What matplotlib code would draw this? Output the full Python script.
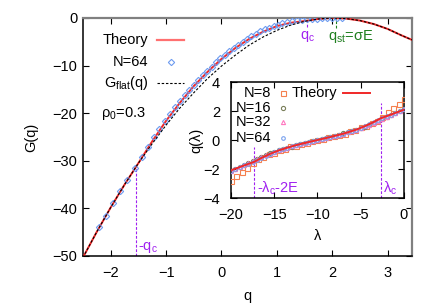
import matplotlib
matplotlib.use("Agg")
import matplotlib.pyplot as plt

plt.rcParams['font.family'] = ['Liberation Sans', 'DejaVu Sans']
plt.rcParams['mathtext.fontset'] = 'custom'
plt.rcParams['mathtext.rm'] = 'Liberation Sans'
plt.rcParams['mathtext.it'] = 'Liberation Sans'
plt.rcParams['font.size'] = 10.5

# ---- main panel data: G(q) ----
q_flat = [-2.5, -2.25, -2.0, -1.75, -1.5, -1.25, -1.0, -0.75, -0.5, -0.25, 0.0,
          0.25, 0.5, 0.75, 1.0, 1.25, 1.5, 1.75, 2.0, 2.25, 2.5, 2.75, 3.0, 3.25, 3.44]
G_flat = [-50.3, -44.9, -39.8, -35.0, -30.5, -26.4, -22.5, -18.9, -15.7, -12.7, -10.1,
          -7.8, -5.7, -4.0, -2.6, -1.5, -0.7, -0.2, 0.0, -0.12, -0.54, -1.27, -2.3, -3.65, -4.6]

q_theory = [-2.5, -2.25, -2.0, -1.75, -1.55, -1.25, -1.0, -0.75, -0.5, -0.25, 0.0,
            0.25, 0.5, 0.75, 1.0, 1.25, 1.55, 1.75, 2.0, 2.25, 2.5, 2.75, 3.0, 3.25, 3.44]
G_theory = [-50.3, -44.9, -39.8, -35.0, -31.4, -25.9, -21.6, -17.8, -14.3, -11.3, -8.6,
            -6.3, -4.4, -2.9, -1.7, -1.0, -0.56, -0.2, 0.0, -0.12, -0.54, -1.27, -2.3, -3.65, -4.6]

q_n64 = [-2.22, -2.09, -1.96, -1.83, -1.70, -1.57, -1.44, -1.33, -1.22, -1.12, -1.02,
         -0.93, -0.84, -0.75, -0.66, -0.58, -0.50, -0.42, -0.34, -0.26, -0.18, -0.10,
         -0.02, 0.06, 0.14, 0.22, 0.30, 0.38, 0.46, 0.54, 0.62, 0.70, 0.78, 0.86, 0.94,
         1.02, 1.10, 1.19, 1.28, 1.37, 1.46, 1.55, 1.64, 1.73, 1.82, 1.91, 2.00, 2.09, 2.18]
G_n64 = [-44.0, -41.5, -38.9, -36.4, -34.0, -31.6, -29.1, -27.0, -25.0, -23.3, -21.6,
         -20.2, -18.8, -17.5, -16.2, -15.1, -14.0, -13.0, -12.0, -11.1, -10.2, -9.3,
         -8.5, -7.7, -7.0, -6.3, -5.6, -5.0, -4.4, -3.8, -3.3, -2.8, -2.4, -2.0, -1.7,
         -1.4, -1.1, -0.85, -0.65, -0.5, -0.4, -0.3, -0.2, -0.12, -0.05, 0.0, 0.0, 0.0, -0.05]

q_c = 1.55
q_st = 2.07

# ---- inset data: q(lambda) ----
lam_theory = [-20, -19, -18, -17.3, -16.5, -15.5, -14.5, -13.5, -12.5, -11.5, -10.5, -10,
              -9.5, -8.5, -7.5, -6.5, -5.5, -4.5, -3.5, -2.7, -2, -1, 0]
qlam_theory = [-2.09, -1.87, -1.65, -1.50, -1.24, -0.96, -0.72, -0.53, -0.36, -0.21, -0.07, 0.0,
               0.07, 0.21, 0.36, 0.53, 0.72, 0.96, 1.24, 1.50, 1.65, 1.87, 2.09]

lam_grid = [-20.0, -19.5, -19.0, -18.5, -18.0, -17.5, -17.0, -16.5, -16.0, -15.5, -15.0,
            -14.5, -14.0, -13.5, -13.0, -12.5, -12.0, -11.5, -11.0, -10.5, -10.0,
            -9.5, -9.0, -8.5, -8.0, -7.5, -7.0, -6.5, -6.0, -5.5, -5.0,
            -4.5, -4.0, -3.5, -3.0, -2.5, -2.0, -1.5, -1.0, -0.5, 0.0]
q_N16 = [-2.13, -1.98, -1.84, -1.70, -1.56, -1.42, -1.28, -1.15, -1.03, -0.92, -0.81,
         -0.71, -0.62, -0.53, -0.45, -0.37, -0.29, -0.22, -0.14, -0.07, 0.0,
         0.07, 0.14, 0.22, 0.29, 0.37, 0.45, 0.53, 0.62, 0.71, 0.81,
         0.92, 1.03, 1.15, 1.28, 1.42, 1.56, 1.70, 1.84, 1.98, 2.13]
q_N32 = [-2.12, -1.99, -1.87, -1.74, -1.61, -1.47, -1.33, -1.19, -1.06, -0.94, -0.82,
         -0.72, -0.62, -0.53, -0.44, -0.36, -0.29, -0.21, -0.14, -0.07, 0.0,
         0.07, 0.14, 0.21, 0.29, 0.36, 0.44, 0.53, 0.62, 0.72, 0.82,
         0.94, 1.06, 1.19, 1.33, 1.47, 1.61, 1.74, 1.87, 1.99, 2.12]
q_N64 = [-2.11, -1.99, -1.87, -1.75, -1.63, -1.50, -1.36, -1.21, -1.07, -0.95, -0.83,
         -0.72, -0.62, -0.53, -0.44, -0.36, -0.28, -0.21, -0.14, -0.07, 0.0,
         0.07, 0.14, 0.21, 0.28, 0.36, 0.44, 0.53, 0.62, 0.72, 0.83,
         0.95, 1.07, 1.21, 1.36, 1.50, 1.63, 1.75, 1.87, 1.99, 2.11]

lam_N8 = [-20.0, -19.375, -18.75, -18.125, -17.5, -16.875, -16.25, -15.625, -15.0, -14.375,
          -13.75, -13.125, -12.5, -11.875, -11.25, -10.625, -10.0, -9.375, -8.75, -8.125,
          -7.5, -6.875, -6.25, -5.625, -5.0, -4.375, -3.75, -3.125, -2.5, -1.875, -1.25,
          -0.625, 0.0]
q_N8 = [-2.85, -2.50, -2.20, -1.95, -1.62, -1.32, -1.18, -0.96, -0.87, -0.68, -0.60,
        -0.44, -0.38, -0.25, -0.19, -0.07, 0.0, 0.07, 0.19, 0.25, 0.38, 0.44, 0.60, 0.68,
        0.87, 0.96, 1.18, 1.32, 1.62, 1.95, 2.20, 2.50, 2.85]

lam_c = -2.7
lam_left = -17.3

purple = '#a020f0'
red = '#f02828'
dash = (0, (2.5, 1.5))

fig = plt.figure(figsize=(4.36, 3.05), dpi=100)
ax = fig.add_axes([0.1904, 0.1607, 0.7546, 0.7803])

ax.plot(q_theory, G_theory, color=red, lw=1.4, zorder=3)
ax.plot(q_n64, G_n64, ls='none', marker='D', ms=3.2, mfc='none', mec='#6d9bf0',
        mew=0.8, zorder=4)
ax.plot(q_flat, G_flat, color='black', ls=(0, (2.2, 1.6)), lw=0.8, zorder=5)

ax.vlines(-q_c, -50, G_theory[q_theory.index(-q_c)], colors=purple, lw=0.8, linestyles=dash)
ax.vlines(q_c, -1.9, -0.4, colors=purple, lw=0.8, linestyles=dash)
ax.vlines(q_st, -2.2, 0, colors='#208020', lw=0.8, linestyles=dash)
ax.text(-1.5, -48.2, r'-q$_\mathregular{c}$', color=purple, ha='left', va='center')
ax.text(q_c, -3.9, r'q$_\mathregular{c}$', color=purple, ha='center', va='center')
ax.text(q_st - 0.14, -3.9, r'q$_\mathregular{st}$=σE', color='#1f7f1f', ha='left', va='center')
ax.text(0.055, 0.6, r'ρ$_\mathregular{0}$=0.3', transform=ax.transAxes, ha='left', va='center')

ax.set_xlim(-2.5, 3.44)
ax.set_ylim(-50, 0)
ax.set_xticks([-2, -1, 0, 1, 2, 3])
ax.set_yticks([0, -10, -20, -30, -40, -50])
ax.tick_params(direction='in', top=True, right=True, length=4, labelsize=10.5)
ax.tick_params(axis='x', pad=7)
ax.tick_params(axis='y', pad=4)
for s in ['top', 'right']:
    ax.spines[s].set_color('#808080')
    ax.spines[s].set_linewidth(1.6)
for s in ['left', 'bottom']:
    ax.spines[s].set_linewidth(1.1)
ax.set_xlabel('q')
ax.set_ylabel('G(q)')
ax.xaxis.set_label_coords(0.5, -0.14)
ax.yaxis.set_label_coords(-0.135, 0.5)

# main key, gnuplot style: right-aligned text, sample on the right
key_x, key_s0, key_s1 = 0.198, 0.225, 0.307
key_rows = [0.908, 0.815, 0.727]
ax.text(key_x, key_rows[0], 'Theory', transform=ax.transAxes, ha='right', va='center')
ax.plot([key_s0, key_s1], [key_rows[0]] * 2, transform=ax.transAxes, color='#ff7070', lw=1.6)
ax.text(key_x, key_rows[1], 'N=64', transform=ax.transAxes, ha='right', va='center')
ax.plot([(key_s0 + key_s1) / 2], [key_rows[1]], transform=ax.transAxes, marker='D', ms=3.2,
        mfc='none', mec='#6d9bf0', mew=0.8)
ax.text(key_x, key_rows[2], r'G$_\mathregular{flat}$(q)', transform=ax.transAxes,
        ha='right', va='center')
ax.plot([key_s0, key_s1], [key_rows[2]] * 2, transform=ax.transAxes, color='black',
        ls=(0, (2.2, 1.6)), lw=0.8)

# ---- inset ----
ins = fig.add_axes([0.5298, 0.3508, 0.3968, 0.3803])
styles = [
    ('N=8', lam_N8, q_N8, 's', 3.6, '#f5804f'),
    ('N=16', lam_grid, q_N16, 'o', 3.0, '#7a7f5a'),
    ('N=32', lam_grid, q_N32, '^', 3.0, '#ff78c0'),
    ('N=64', lam_grid, q_N64, 'o', 2.6, '#7aa2ee'),
]
ikey_rows = [0.905, 0.776, 0.655, 0.517]
for (lab, xs, ys, m, ms, c), yk in zip(styles, ikey_rows):
    ins.plot(xs, ys, ls='none', marker=m, ms=ms, mfc='none', mec=c, mew=0.8, zorder=3)
    ins.text(0.231, yk, lab, transform=ins.transAxes, ha='right', va='center')
    ins.plot([0.30], [yk], transform=ins.transAxes, marker=m, ms=ms, mfc='none', mec=c, mew=0.8)
ins.plot(lam_theory, qlam_theory, color=red, lw=1.4, zorder=4)
ins.text(0.353, 0.905, 'Theory', transform=ins.transAxes, ha='left', va='center')
ins.plot([0.647, 0.803], [0.905, 0.905], transform=ins.transAxes, color=red, lw=1.4)

ins.vlines([lam_left, lam_c], [-4, -4], [-0.5, 2.55], colors=purple, lw=0.8, linestyles=dash)
ins.text(lam_left + 0.3, -3.3, r'-λ$_\mathregular{c}$-2E', color=purple, ha='left', va='center')
ins.text(lam_c + 0.3, -3.3, r'λ$_\mathregular{c}$', color=purple, ha='left', va='center')

ins.set_xlim(-20, 0)
ins.set_ylim(-4, 4)
ins.set_xticks([-20, -15, -10, -5, 0])
ins.set_yticks([-4, -2, 0, 2, 4])
ins.tick_params(direction='in', top=True, right=True, length=4, labelsize=10.5)
ins.tick_params(axis='x', pad=7)
ins.tick_params(axis='y', pad=8)
for s in ins.spines.values():
    s.set_linewidth(1.1)
ins.set_xlabel('λ')
ins.set_ylabel('q(λ)')
ins.xaxis.set_label_coords(0.5, -0.27)
ins.yaxis.set_label_coords(-0.16, 0.5)

fig.savefig('out.png', dpi=100)
